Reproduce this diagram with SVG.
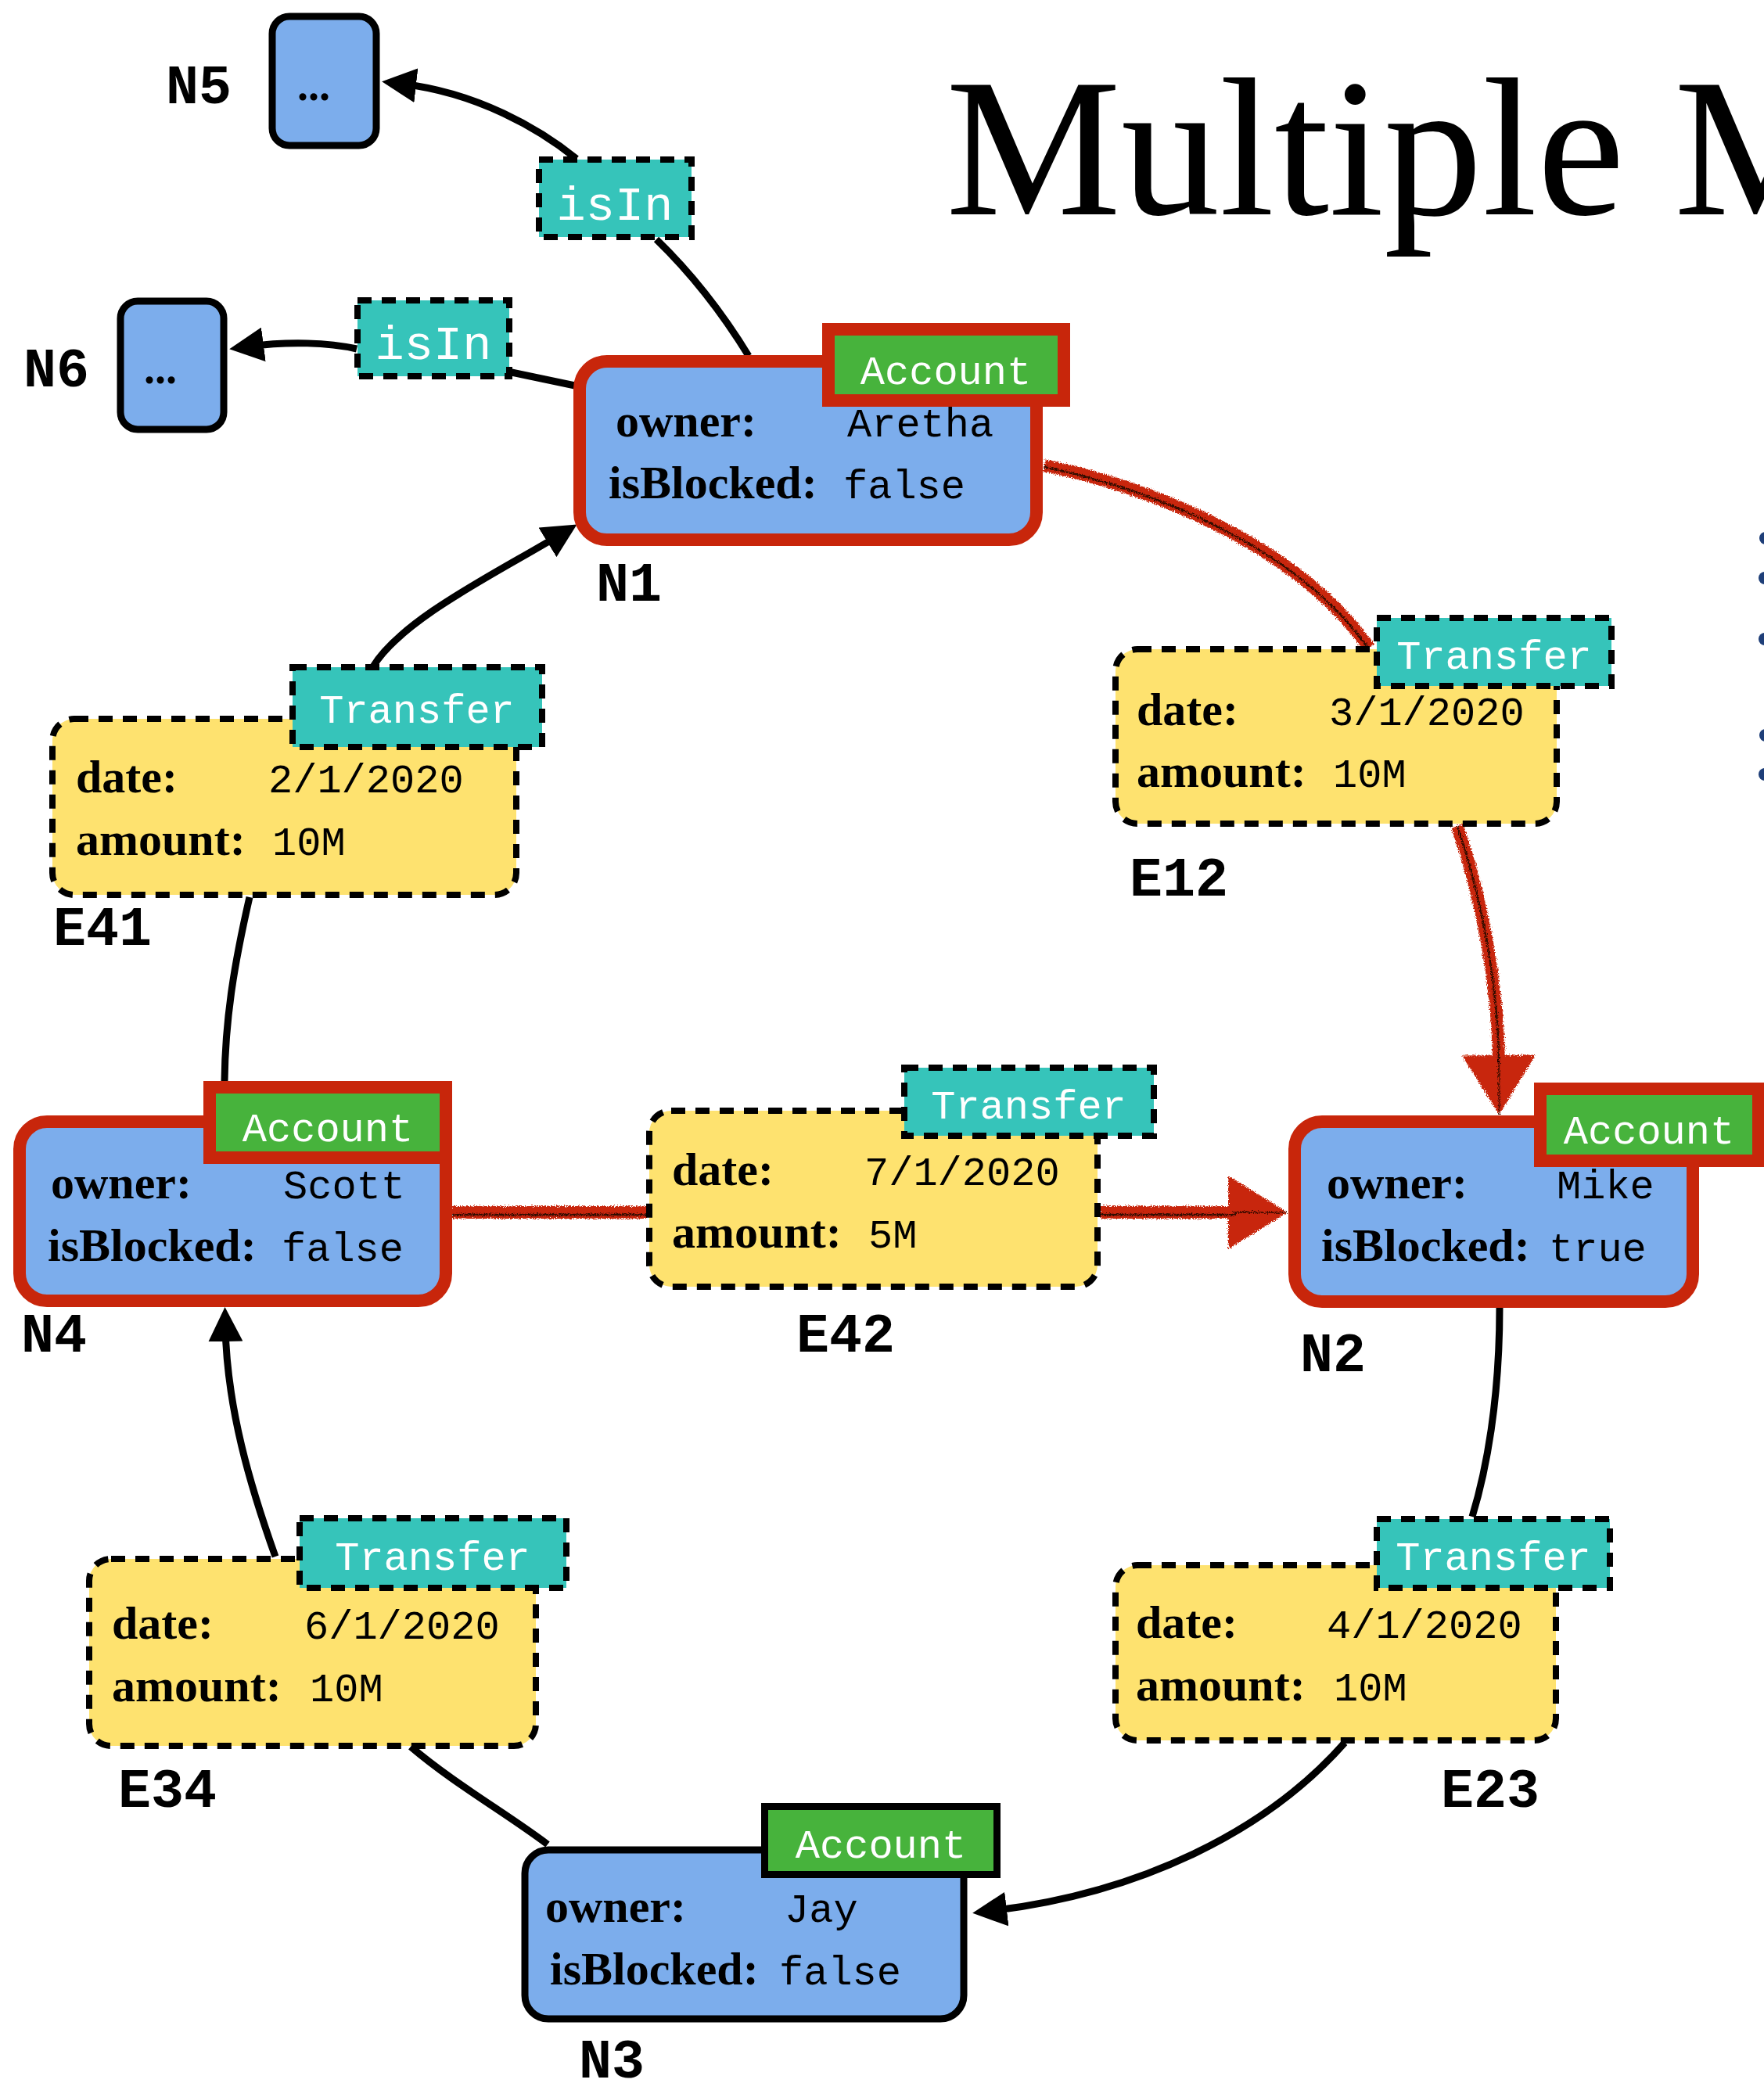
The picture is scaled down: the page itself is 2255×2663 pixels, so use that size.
<svg xmlns="http://www.w3.org/2000/svg" width="2255" height="2663" viewBox="0 0 2255 2663">
  <style>
    .acc{fill:#7CADEC}
    .hl{stroke:#C8260B;stroke-width:16}
    .pl{stroke:#000;stroke-width:9}
    .tag-hl{fill:#47B33C;stroke:#C8260B;stroke-width:16}
    .tag-pl{fill:#47B33C;stroke:#000;stroke-width:9}
    .edge{fill:#FEE26F;stroke:#000;stroke-width:8;stroke-dasharray:18 13}
    .etag{fill:#36C4BA;stroke:#000;stroke-width:8;stroke-dasharray:18 13}
    .prop{font-family:"Liberation Serif","Times New Roman",serif;font-weight:bold;font-size:60px;fill:#000}
    .val{font-family:"Liberation Mono","Courier New",monospace;font-size:52px;fill:#000}
    .tt{font-family:"Liberation Mono","Courier New",monospace;font-size:52px;fill:#fff;text-anchor:middle}
    .isin{font-family:"Liberation Mono","Courier New",monospace;font-size:62px;fill:#fff;text-anchor:middle}
    .id{font-family:"Liberation Mono","Courier New",monospace;font-weight:bold;font-size:70px;fill:#000}
    .dots{font-family:"Liberation Serif",serif;font-weight:bold;font-size:56px;fill:#000}
    .wire{fill:none;stroke:#000;stroke-width:9}
    .red{fill:none;stroke:#C8260B;stroke-width:16}
    .redcore{fill:none;stroke:#000;stroke-width:2.5;stroke-opacity:0.75}
  </style>
  <defs>
    <marker id="arrow" markerUnits="userSpaceOnUse" viewBox="0 0 44 44" markerWidth="44" markerHeight="44" refX="20" refY="22" orient="auto">
      <path d="M0,0 L44,22 L0,44 z" fill="#000"/>
    </marker>
    <marker id="arrow-red" markerUnits="userSpaceOnUse" viewBox="0 0 76 94" markerWidth="76" markerHeight="94" refX="10" refY="47" orient="auto">
      <path d="M0,0 L76,47 L0,94 z" fill="#C8260B"/>
      <path d="M6,47 L76,47" stroke="#000" stroke-width="2" stroke-opacity="0.6"/>
    </marker>
    <filter id="rough" filterUnits="userSpaceOnUse" x="0" y="0" width="2255" height="2663">
      <feTurbulence type="fractalNoise" baseFrequency="0.7" numOctaves="2" seed="3" result="noise"/>
      <feDisplacementMap in="SourceGraphic" in2="noise" scale="7" xChannelSelector="R" yChannelSelector="G"/>
    </filter>
  </defs>

  <rect width="2255" height="2663" fill="#fff"/>

  <!-- heading, clipped by the right edge -->
  <text x="1209" y="274" font-family="'Liberation Serif','Times New Roman',serif" font-size="252" fill="#000">Multiple M</text>

  <!-- bullet markers at the right edge -->
  <g fill="#1E3E78">
    <circle cx="2257" cy="688" r="8"/>
    <circle cx="2256" cy="739" r="8"/>
    <circle cx="2256" cy="817" r="8"/>
    <circle cx="2257" cy="940" r="8"/>
    <circle cx="2256" cy="990" r="8"/>
  </g>

  <g id="connectors">
    <path class="wire" d="M957,455 Q905,370 839,306"/>
    <path class="wire" d="M737,203 C690,165 610,118 512,107" marker-end="url(#arrow)"/>
    <path class="wire" d="M735,493 L654,476"/>
    <path class="wire" d="M456,446 C420,438 370,436 317,443" marker-end="url(#arrow)"/>
    <path class="wire" d="M477,852 C515,790 640,730 717,683" marker-end="url(#arrow)"/>
    <path class="wire" d="M319,1147 C300,1230 288,1300 287,1382"/>
    <path class="wire" d="M352,1990 C320,1900 290,1800 288,1695" marker-end="url(#arrow)"/>
    <path class="wire" d="M525,2233 C580,2280 650,2320 700,2358"/>
    <path class="wire" d="M1917,1672 C1917,1790 1900,1880 1882,1939"/>
    <path class="wire" d="M1719,2228 C1620,2340 1460,2420 1267,2443" marker-end="url(#arrow)"/>
    <g filter="url(#rough)">
      <path class="red" d="M1335,595 C1480,625 1660,700 1750,828"/>
      <path class="redcore" d="M1335,597 C1480,627 1660,702 1750,830"/>
      <path class="red" d="M1863,1056 C1895,1150 1915,1260 1916,1359" marker-end="url(#arrow-red)"/>
      <path class="redcore" d="M1863,1056 C1895,1150 1915,1260 1916,1359"/>
      <path class="red" d="M578,1550 L827,1550"/>
      <path class="redcore" d="M578,1553 L827,1553"/>
      <path class="red" d="M1406,1550 L1580,1550" marker-end="url(#arrow-red)"/>
      <path class="redcore" d="M1406,1553 L1580,1553"/>
    </g>
  </g>

  <g id="N5">
    <rect class="acc pl" x="348" y="21" width="133" height="165" rx="22"/>
    <text class="dots" x="380" y="128">...</text>
    <text class="id" x="212" y="132">N5</text>
  </g>

  <g id="N6">
    <rect class="acc pl" x="154" y="385" width="132" height="164" rx="22"/>
    <text class="dots" x="184" y="490">...</text>
    <text class="id" x="30" y="494">N6</text>
  </g>

  <g id="isIn-N5">
    <rect class="etag" x="689" y="204" width="195" height="99"/>
    <text class="isin" x="786" y="281">isIn</text>
  </g>

  <g id="isIn-N6">
    <rect class="etag" x="457" y="384" width="194" height="97"/>
    <text class="isin" x="554" y="459">isIn</text>
  </g>

  <g id="N1">
    <rect class="acc hl" x="741" y="462" width="584" height="228" rx="35"/>
    <rect class="tag-hl" x="1059" y="421" width="301" height="91"/>
    <text class="tt" x="1209" y="491">Account</text>
    <text class="prop" x="787" y="558">owner:</text>
    <text class="val" x="1083" y="558">Aretha</text>
    <text class="prop" x="778" y="637">isBlocked:</text>
    <text class="val" x="1078" y="637">false</text>
    <text class="id" x="762" y="768">N1</text>
  </g>

  <g id="E12">
    <rect class="edge" x="1426" y="830" width="564" height="223" rx="28"/>
    <rect class="etag" x="1760" y="790" width="300" height="87"/>
    <text class="tt" x="1910" y="855">Transfer</text>
    <text class="prop" x="1453" y="927">date:</text>
    <text class="val" x="1699" y="927">3/1/2020</text>
    <text class="prop" x="1453" y="1006">amount:</text>
    <text class="val" x="1704" y="1006">10M</text>
    <text class="id" x="1444" y="1145">E12</text>
  </g>

  <g id="E41">
    <rect class="edge" x="67" y="919" width="593" height="225" rx="28"/>
    <rect class="etag" x="374" y="853" width="319" height="102"/>
    <text class="tt" x="533" y="924">Transfer</text>
    <text class="prop" x="97" y="1013">date:</text>
    <text class="val" x="343" y="1013">2/1/2020</text>
    <text class="prop" x="97" y="1093">amount:</text>
    <text class="val" x="348" y="1093">10M</text>
    <text class="id" x="68" y="1208">E41</text>
  </g>

  <g id="N4">
    <rect class="acc hl" x="25" y="1434" width="545" height="229" rx="35"/>
    <rect class="tag-hl" x="268" y="1390" width="302" height="90"/>
    <text class="tt" x="419" y="1459">Account</text>
    <text class="prop" x="65" y="1532">owner:</text>
    <text class="val" x="362" y="1532">Scott</text>
    <text class="prop" x="61" y="1612">isBlocked:</text>
    <text class="val" x="360" y="1612">false</text>
    <text class="id" x="27" y="1728">N4</text>
  </g>

  <g id="E42">
    <rect class="edge" x="830" y="1420" width="573" height="225" rx="28"/>
    <rect class="etag" x="1156" y="1365" width="319" height="87"/>
    <text class="tt" x="1315" y="1430">Transfer</text>
    <text class="prop" x="859" y="1515">date:</text>
    <text class="val" x="1105" y="1515">7/1/2020</text>
    <text class="prop" x="859" y="1595">amount:</text>
    <text class="val" x="1110" y="1595">5M</text>
    <text class="id" x="1018" y="1728">E42</text>
  </g>

  <g id="N2">
    <rect class="acc hl" x="1655" y="1434" width="509" height="230" rx="35"/>
    <rect class="tag-hl" x="1969" y="1392" width="279" height="92"/>
    <text class="tt" x="2108" y="1462">Account</text>
    <text class="prop" x="1696" y="1532">owner:</text>
    <text class="val" x="1990" y="1532">Mike</text>
    <text class="prop" x="1689" y="1612">isBlocked:</text>
    <text class="val" x="1980" y="1612">true</text>
    <text class="id" x="1662" y="1753">N2</text>
  </g>

  <g id="E34">
    <rect class="edge" x="114" y="1993" width="571" height="239" rx="28"/>
    <rect class="etag" x="383" y="1941" width="341" height="89"/>
    <text class="tt" x="553" y="2007">Transfer</text>
    <text class="prop" x="143" y="2095">date:</text>
    <text class="val" x="389" y="2095">6/1/2020</text>
    <text class="prop" x="143" y="2175">amount:</text>
    <text class="val" x="396" y="2175">10M</text>
    <text class="id" x="151" y="2310">E34</text>
  </g>

  <g id="E23">
    <rect class="edge" x="1426" y="2001" width="563" height="224" rx="28"/>
    <rect class="etag" x="1760" y="1942" width="298" height="88"/>
    <text class="tt" x="1909" y="2007">Transfer</text>
    <text class="prop" x="1452" y="2094">date:</text>
    <text class="val" x="1696" y="2094">4/1/2020</text>
    <text class="prop" x="1452" y="2174">amount:</text>
    <text class="val" x="1705" y="2174">10M</text>
    <text class="id" x="1842" y="2310">E23</text>
  </g>

  <g id="N3">
    <rect class="acc pl" x="671" y="2365" width="561" height="216" rx="30"/>
    <rect class="tag-pl" x="977.5" y="2309.5" width="297" height="87"/>
    <text class="tt" x="1126" y="2375">Account</text>
    <text class="prop" x="697" y="2457">owner:</text>
    <text class="val" x="1003" y="2457">Jay</text>
    <text class="prop" x="703" y="2537">isBlocked:</text>
    <text class="val" x="996" y="2537">false</text>
    <text class="id" x="740" y="2656">N3</text>
  </g>
</svg>
